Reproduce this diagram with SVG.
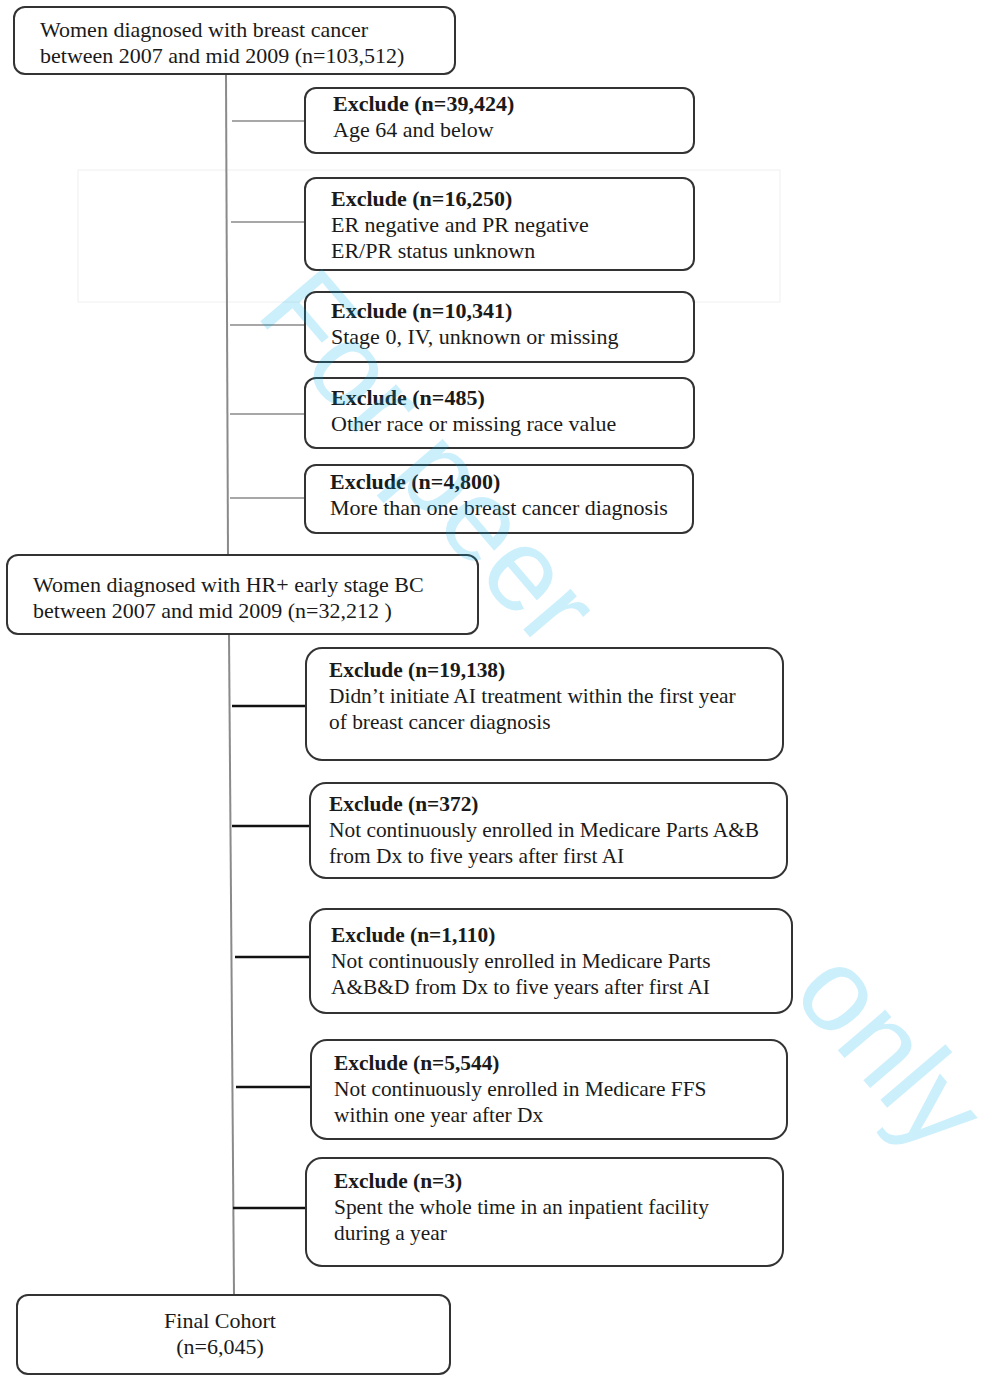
<svg xmlns="http://www.w3.org/2000/svg" width="981" height="1382" viewBox="0 0 981 1382">
<style>
.box{fill:#fff;stroke:#333;stroke-width:2}
.t{font-family:"Liberation Serif","Times New Roman",serif;font-size:22px;fill:#1a1a1a}
.s{font-size:21.4px}
.bd{font-weight:bold}
.up{stroke:#8a8a8a;stroke-width:1.6;fill:none}
.lo{stroke:#111;stroke-width:2.4;fill:none}
.trunk{stroke:#8a8a8a;stroke-width:2;fill:none}
.wm{font-family:"Liberation Sans",Arial,sans-serif;font-size:118px;fill:#00AEEF;fill-opacity:0.2}
</style>
<rect x="78" y="170" width="702" height="132" fill="none" stroke="#f0f0f0" stroke-width="1"/>
<g id="connectors">
<line class="trunk" x1="226" y1="74" x2="228" y2="555"/>
<line class="up" x1="232" y1="121" x2="305" y2="121"/>
<line class="up" x1="231" y1="222" x2="305" y2="222"/>
<line class="up" x1="230" y1="325" x2="305" y2="325"/>
<line class="up" x1="230" y1="414" x2="305" y2="414"/>
<line class="up" x1="230" y1="498" x2="305" y2="498"/>
<line class="trunk" x1="229" y1="634" x2="234" y2="1295"/>
<line class="lo" x1="232" y1="706" x2="306" y2="706"/>
<line class="lo" x1="232" y1="826" x2="310" y2="826"/>
<line class="lo" x1="235" y1="957" x2="310" y2="957"/>
<line class="lo" x1="236" y1="1087" x2="311" y2="1087"/>
<line class="lo" x1="233" y1="1208" x2="306" y2="1208"/>
</g>
<g id="n_start">
<rect class="box" x="14" y="7" width="441" height="67" rx="11"/>
<text class="t" x="40" y="37">Women diagnosed with breast cancer</text>
<text class="t" x="40" y="63">between 2007 and mid 2009 (n=103,512)</text>
</g>
<g id="n_ex1">
<rect class="box" x="305" y="88" width="389" height="65" rx="11"/>
<text class="t bd" x="333" y="111">Exclude (n=39,424)</text>
<text class="t" x="333" y="137">Age 64 and below</text>
</g>
<g id="n_ex2">
<rect class="box" x="305" y="178" width="389" height="92" rx="11"/>
<text class="t bd" x="331" y="206">Exclude (n=16,250)</text>
<text class="t" x="331" y="232">ER negative  and PR negative</text>
<text class="t" x="331" y="258">ER/PR status unknown</text>
</g>
<g id="n_ex3">
<rect class="box" x="305" y="292" width="389" height="70" rx="11"/>
<text class="t bd" x="331" y="318">Exclude (n=10,341)</text>
<text class="t" x="331" y="344">Stage 0, IV, unknown or missing</text>
</g>
<g id="n_ex4">
<rect class="box" x="305" y="378" width="389" height="70" rx="11"/>
<text class="t bd" x="331" y="405">Exclude (n=485)</text>
<text class="t" x="331" y="431">Other race or missing race value</text>
</g>
<g id="n_ex5">
<rect class="box" x="305" y="465" width="388" height="68" rx="11"/>
<text class="t bd" x="330" y="489">Exclude (n=4,800)</text>
<text class="t" x="330" y="515">More than one breast cancer diagnosis</text>
</g>
<g id="n_hr">
<rect class="box" x="7" y="555" width="471" height="79" rx="11"/>
<text class="t" x="33" y="592">Women diagnosed with HR+ early stage BC</text>
<text class="t" x="33" y="618">between 2007 and mid 2009 (n=32,212 )</text>
</g>
<g id="n_ex6">
<rect class="box" x="306" y="648" width="477" height="112" rx="16"/>
<text class="t s bd" x="329" y="677">Exclude (n=19,138)</text>
<text class="t s" x="329" y="703">Didn’t initiate AI treatment within the first year</text>
<text class="t s" x="329" y="729">of breast cancer diagnosis</text>
</g>
<g id="n_ex7">
<rect class="box" x="310" y="783" width="477" height="95" rx="16"/>
<text class="t s bd" x="329" y="811">Exclude (n=372)</text>
<text class="t s" x="329" y="837">Not continuously enrolled in Medicare Parts A&amp;B</text>
<text class="t s" x="329" y="863">from Dx to five years after first AI</text>
</g>
<g id="n_ex8">
<rect class="box" x="310" y="909" width="482" height="104" rx="16"/>
<text class="t s bd" x="331" y="942">Exclude (n=1,110)</text>
<text class="t s" x="331" y="968">Not continuously enrolled in Medicare Parts</text>
<text class="t s" x="331" y="994">A&amp;B&amp;D  from Dx to five years after first AI</text>
</g>
<g id="n_ex9">
<rect class="box" x="311" y="1040" width="476" height="99" rx="16"/>
<text class="t s bd" x="334" y="1070">Exclude (n=5,544)</text>
<text class="t s" x="334" y="1096">Not continuously enrolled in Medicare FFS</text>
<text class="t s" x="334" y="1122">within  one year after Dx</text>
</g>
<g id="n_ex10">
<rect class="box" x="306" y="1158" width="477" height="108" rx="16"/>
<text class="t s bd" x="334" y="1188">Exclude (n=3)</text>
<text class="t s" x="334" y="1214">Spent the whole time in an  inpatient facility</text>
<text class="t s" x="334" y="1240">during a year</text>
</g>
<g id="n_final">
<rect class="box" x="17" y="1295" width="433" height="79" rx="11"/>
<text class="t" x="220" y="1328" text-anchor="middle">Final Cohort</text>
<text class="t" x="220" y="1354" text-anchor="middle">(n=6,045)</text>
</g>
<text class="wm" transform="translate(254,314) rotate(49.5)">For peer</text>
<text class="wm" transform="translate(790,994) rotate(49.5)">only</text>
</svg>
